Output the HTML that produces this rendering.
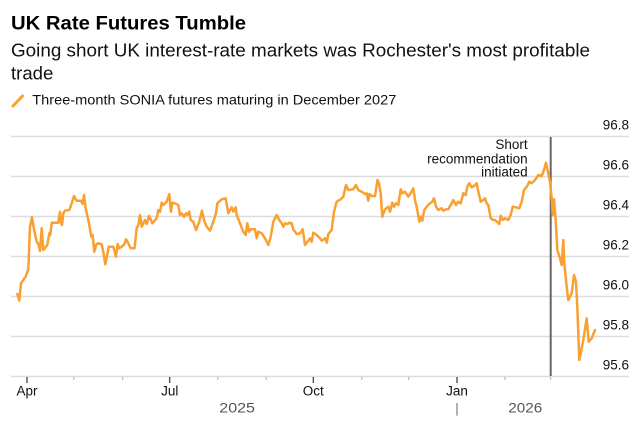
<!DOCTYPE html>
<html>
<head>
<meta charset="utf-8">
<style>
  html, body { margin: 0; padding: 0; background: #fff; }
  svg { display: block; }
  text { font-family: "Liberation Sans", Arial, sans-serif; }
</style>
</head>
<body>
<svg width="641" height="421" viewBox="0 0 641 421" xmlns="http://www.w3.org/2000/svg">
  <rect x="0" y="0" width="641" height="421" fill="#fff"/>

  <!-- Header -->
  <text x="11" y="29.3" font-size="19" font-weight="bold" fill="#000" textLength="235" lengthAdjust="spacingAndGlyphs">UK Rate Futures Tumble</text>
  <text x="11" y="56.7" font-size="18" fill="#111" textLength="579" lengthAdjust="spacingAndGlyphs">Going short UK interest-rate markets was Rochester's most profitable</text>
  <text x="11" y="79.3" font-size="18" fill="#111" textLength="42.3" lengthAdjust="spacingAndGlyphs">trade</text>

  <!-- Legend -->
  <line x1="13" y1="106" x2="22.5" y2="96" stroke="#faa033" stroke-width="3" stroke-linecap="round"/>
  <text x="32.3" y="104.3" font-size="13.5" fill="#111" textLength="364" lengthAdjust="spacingAndGlyphs">Three-month SONIA futures maturing in December 2027</text>

  <!-- Gridlines -->
  <g stroke="#dcdcdc" stroke-width="1.5">
    <line x1="11" y1="136.5" x2="629" y2="136.5"/>
    <line x1="11" y1="176.5" x2="629" y2="176.5"/>
    <line x1="11" y1="216.5" x2="629" y2="216.5"/>
    <line x1="11" y1="256.5" x2="629" y2="256.5"/>
    <line x1="11" y1="296.5" x2="629" y2="296.5"/>
    <line x1="11" y1="336.5" x2="629" y2="336.5"/>
    <line x1="11" y1="376.5" x2="629" y2="376.5"/>
  </g>

  <!-- Y labels -->
  <g font-size="13.5" fill="#111" text-anchor="end">
    <text x="629" y="129.5">96.8</text>
    <text x="629" y="169.5">96.6</text>
    <text x="629" y="209.5">96.4</text>
    <text x="629" y="249.5">96.2</text>
    <text x="629" y="289.5">96.0</text>
    <text x="629" y="329.5">95.8</text>
    <text x="629" y="369.5">95.6</text>
  </g>

  <!-- X ticks -->
  <g stroke="#444" stroke-width="1.3">
    <line x1="27" y1="377" x2="27" y2="383"/>
    <line x1="169.7" y1="377" x2="169.7" y2="383"/>
    <line x1="313.3" y1="377" x2="313.3" y2="383"/>
    <line x1="457" y1="377" x2="457" y2="383"/>
  </g>
  <g stroke="#bbb" stroke-width="1.2">
    <line x1="73.7" y1="377" x2="73.7" y2="380"/>
    <line x1="122.7" y1="377" x2="122.7" y2="380"/>
    <line x1="217.7" y1="377" x2="217.7" y2="380"/>
    <line x1="266.3" y1="377" x2="266.3" y2="380"/>
    <line x1="361.7" y1="377" x2="361.7" y2="380"/>
    <line x1="408.7" y1="377" x2="408.7" y2="380"/>
    <line x1="505" y1="377" x2="505" y2="380"/>
    <line x1="550.5" y1="377" x2="550.5" y2="380"/>
  </g>

  <!-- Month labels -->
  <g font-size="13.5" fill="#111" text-anchor="middle">
    <text x="27" y="395.7">Apr</text>
    <text x="169.7" y="395.7">Jul</text>
    <text x="313.3" y="395.7">Oct</text>
    <text x="457" y="395.7">Jan</text>
  </g>

  <!-- Year labels -->
  <text x="219.3" y="412.3" font-size="14" fill="#555" textLength="35.7" lengthAdjust="spacingAndGlyphs">2025</text>
  <text x="508.3" y="412.3" font-size="14" fill="#555" textLength="34" lengthAdjust="spacingAndGlyphs">2026</text>
  <line x1="457" y1="403" x2="457" y2="415.6" stroke="#999" stroke-width="1.5"/>

  <!-- Annotation line -->
  <line x1="550.7" y1="137" x2="550.7" y2="376" stroke="#666" stroke-width="2"/>
  <g font-size="13.5" fill="#111" text-anchor="end">
    <text x="527.7" y="149">Short</text>
    <text x="527.7" y="163.3">recommendation</text>
    <text x="527.7" y="176.7">initiated</text>
  </g>

  <!-- Series -->
  <polyline fill="none" stroke="#faa033" stroke-width="2.5" stroke-linejoin="round" stroke-linecap="round"
    points="17.3,294 19.3,300.7 21,283.3 23.3,280 25.7,276.7 28.3,269.3 30,226.7 32,217.3 34,229.3 36.7,241.7 38.3,244 40,251 41.7,228.3 43.3,250 46,246.7 47.3,245 49.3,233.3 50.3,235 51.7,222.7 58.3,222.7 60,211.7 61,222.7 62,225 63.3,213.3 65,210.7 69.3,210 71.7,203.3 74,196 76.7,200.7 81,200.7 82.7,204 84,195 86,210 89,223.3 91.3,236.7 92.7,235 94.3,251.7 96,245 97.7,243.3 101.7,244.3 103.3,251.7 105.3,264.3 107,256 108.7,246.7 113.3,246.7 116,256.7 117.7,244 119,248.3 121.7,246.7 124.3,244.3 126,239.3 128.3,243.3 130.7,248.3 134.5,248.3 136.7,228.3 138.3,225 140,215 141.7,226.7 143.3,223.3 145,220 146.7,224 149,216 150.7,219.3 152.3,223.3 156.7,218.3 158.3,210 160,211.7 161.7,202.7 163.3,205 166.7,201.7 169.3,194 171,211.7 172.3,202.7 175,203.3 178.3,205 180,215 181.7,213.3 184,216.7 186,213.3 187.3,215 189.3,211.7 190.7,220 193.3,221.7 196,230 199.3,221.7 202,210.7 204,220 206.7,226.7 210,230.7 213.3,221.7 216,213.3 217.3,203.3 221.7,199.3 225.7,198.3 228.3,213.3 231.7,207.3 233.3,211.7 235.7,207.3 236.7,215 240,223.3 243.3,231.7 245.7,235 247.3,223.3 249,231.7 250.7,229.3 255,229.3 256.7,238.3 258.3,231.7 261.7,233.3 265,238.3 268.3,245 270.7,236.7 273.3,221.7 276.7,215 279.3,220 281.7,223.3 283.3,226.7 285,223.3 287.3,224 289.3,222.7 291.7,223.3 293.3,229.3 296.7,234 300,233.3 302.7,229.3 305,245 308.3,240.7 310,238.3 311.7,241.7 313.3,232.7 316.7,235 320,238.3 321.7,240.7 325,238.3 326.7,242.7 328.3,234 331.7,230 334,211.7 336.7,201.7 340.7,199.3 343.3,196.7 346,185 348.3,190 353.3,189.3 356,185 358.3,190 361.7,191.7 365,194 366.7,193.3 368.3,200.7 369.3,194 371.7,196 375,196 377.5,180 379,183.3 380.7,193.3 382.3,216.7 385,209.3 388.3,206.7 390,211.7 392.3,202.7 394,206.7 396,203.3 398.3,205 400.7,189.3 402.3,193.3 405,191.7 408.3,196.7 410.7,193.3 413.3,188.3 415,200 417.3,210 419.3,221.7 420.7,216.7 422.3,220.7 424.3,210 426.7,206.7 430,203.3 432.3,201.7 434,198.3 436,206.7 438.3,210 441.7,208.3 443.3,210.7 446,209.3 448.3,209.3 451.7,203.3 453.3,200 456,205 458.3,201.7 460.7,203.3 463.3,193.3 465.7,195 467.3,186.7 469.3,183.3 471.7,187.3 474,186 476.7,183.3 478.3,191.7 480.7,201.7 483.3,200 485,198.3 486.7,203.3 488.3,205 490.7,218.3 493.3,220 495,220 499.3,224 500.7,215.7 502.7,220 505,218.3 508.3,220 510.7,215 512.7,206.7 516,207.3 519.3,208.3 521.7,201.7 524,190 527.3,186 529.3,181.7 531.7,183.3 535,180 538.3,175 541.7,176 544,170 546,162.7 548.3,173.3 550,181.7 551.7,198.3 552.7,215 554,199.3 555.7,220 557.3,250 560,258.3 561.7,265 563.3,240 564.3,263.3 566.7,286.7 568.3,300 571.7,293.3 574,275 576,281.7 577.3,306.7 579.3,360 580.7,353.3 583.3,340 586.7,318.3 588.7,341.7 591.7,338.3 595,330"/>
</svg>
</body>
</html>
